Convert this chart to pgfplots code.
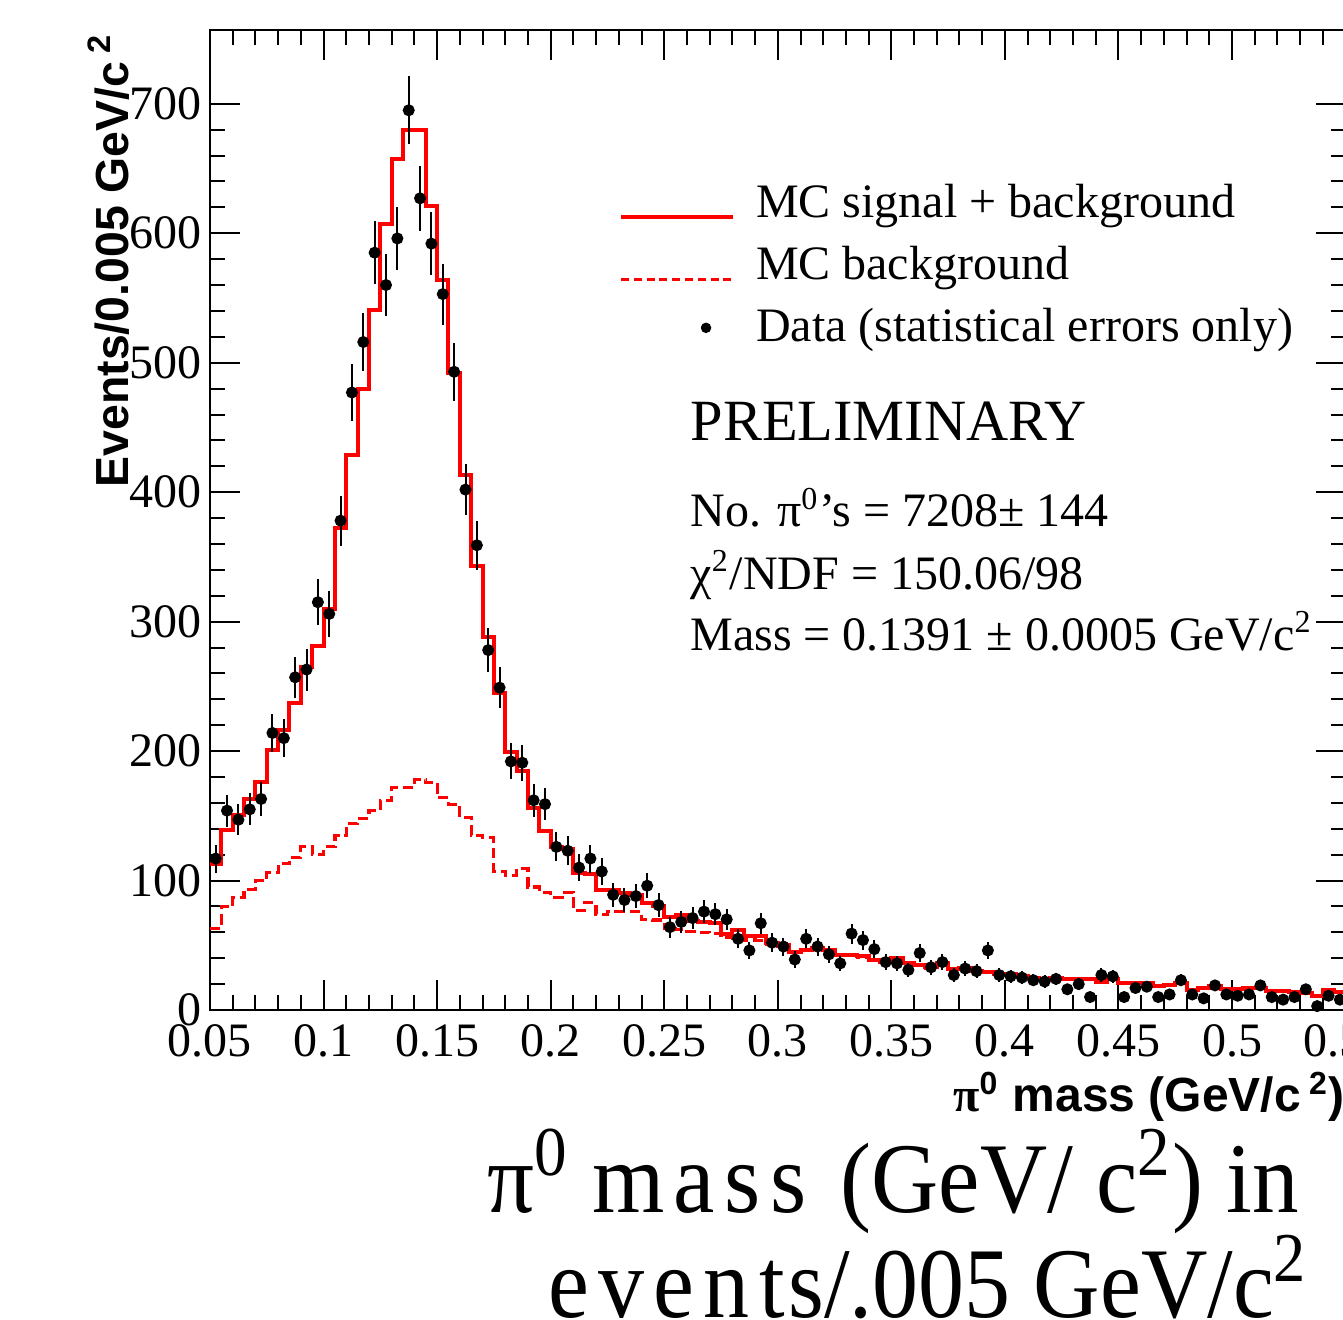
\documentclass[border=0pt]{standalone}
\usepackage{fontspec}
\setmainfont{Liberation Serif}
\newfontfamily\rootsans{Liberation Sans}
\newfontfamily\serifgr{Liberation Serif}
\usepackage{pgfplots}
\usepackage{pgfplotstable}
\pgfplotsset{compat=1.18}

\pgfplotstableread{
lo tot bg
0.050 113 63
0.055 139 80
0.060 151 87
0.065 163 93
0.070 176 100
0.075 201 106
0.080 216 113
0.085 237 118
0.090 265 126
0.095 281 120
0.100 310 126
0.105 372 135
0.110 429 144
0.115 480 148
0.120 541 154
0.125 607 162
0.130 657 172
0.135 680 172
0.140 680 178
0.145 621 176
0.150 564 164
0.155 492 159
0.160 413 149
0.165 343 135
0.170 288 133
0.175 245 107
0.180 199 104
0.185 185 109
0.190 156 95
0.195 138 91
0.200 126 87
0.205 124 91
0.210 106 77
0.215 105 83
0.220 93 74
0.225 93 76
0.230 90 76
0.235 89 76
0.240 83 70
0.245 80 69.5
0.250 72 63
0.255 73 62
0.260 69 60.5
0.265 68 60
0.270 67 59
0.275 59 56
0.280 62 55.5
0.285 57 54
0.290 57 53.5
0.295 52 51
0.300 50 49.5
0.305 45 44.5
0.310 46 45.8
0.315 48 47.6
0.320 46 45
0.325 42.5 42
0.330 42.5 42
0.335 41.7 41
0.340 38.6 38
0.345 37.3 37
0.350 39.9 39.3
0.355 36.6 36
0.360 34.8 34.3
0.365 33 32.5
0.370 36 35.4
0.375 31.7 31.2
0.380 32.2 31.7
0.385 30.4 30
0.390 29.6 29.1
0.395 27.8 27.3
0.400 27.8 27.3
0.405 26.3 25.8
0.410 25 24.5
0.415 23 22.6
0.420 24.5 24
0.425 23.7 23.3
0.430 23.7 23.3
0.435 24 23.6
0.440 21.9 21.5
0.445 23.7 23.3
0.450 20.6 20.2
0.455 20.6 20.2
0.460 20.6 20.2
0.465 18.8 18.4
0.470 19.3 18.9
0.475 20.6 20.2
0.480 15.5 15.1
0.485 16.7 16.3
0.490 18.5 18.1
0.495 16.2 15.8
0.500 16 15.6
0.505 16.7 16.3
0.510 16.7 16.3
0.515 14.9 14.5
0.520 14.9 14.5
0.525 14.2 13.8
0.530 12.9 12.5
0.535 10.8 10.4
0.540 15.5 15.1
0.545 14.2 13.8
0.550 14.2 13.8
}\histtab

\pgfplotstableread{
x y e
0.0525 117 10.8
0.0575 154 12.4
0.0625 147 12.1
0.0675 155 12.4
0.0725 163 12.8
0.0775 214 14.6
0.0825 210 14.5
0.0875 257 16.0
0.0925 263 16.2
0.0975 315 17.7
0.1025 306 17.5
0.1075 378 19.4
0.1125 477 21.8
0.1175 516 22.7
0.1225 585 24.2
0.1275 560 23.7
0.1325 596 24.4
0.1375 695 26.4
0.1425 627 25.0
0.1475 592 24.3
0.1525 553 23.5
0.1575 493 22.2
0.1625 402 20.0
0.1675 359 18.9
0.1725 278 16.7
0.1775 249 15.8
0.1825 192 13.9
0.1875 191 13.8
0.1925 162 12.7
0.1975 159 12.6
0.2025 126 11.2
0.2075 123 11.1
0.2125 110 10.5
0.2175 117 10.8
0.2225 107 10.3
0.2275 89 9.4
0.2325 85 9.2
0.2375 88 9.4
0.2425 96 9.8
0.2475 81 9.0
0.2525 64 8.0
0.2575 68 8.2
0.2625 71 8.4
0.2675 76 8.7
0.2725 74 8.6
0.2775 70 8.4
0.2825 55 7.4
0.2875 46 6.8
0.2925 67 8.2
0.2975 52 7.2
0.3025 49 7.0
0.3075 39 6.2
0.3125 55 7.4
0.3175 49 7.0
0.3225 43 6.6
0.3275 36 6.0
0.3325 59 7.7
0.3375 54 7.3
0.3425 47 6.9
0.3475 37 6.1
0.3525 36 6.0
0.3575 31 5.6
0.3625 44 6.6
0.3675 33 5.7
0.3725 37 6.1
0.3775 27 5.2
0.3825 32 5.7
0.3875 30 5.5
0.3925 46 6.8
0.3975 27 5.2
0.4025 26 5.1
0.4075 25 5.0
0.4125 23 4.8
0.4175 22 4.7
0.4225 24 4.9
0.4275 16 4.0
0.4325 20 4.5
0.4375 10 3.2
0.4425 27 5.2
0.4475 26 5.1
0.4525 10 3.2
0.4575 17 4.1
0.4625 18 4.2
0.4675 10 3.2
0.4725 12 3.5
0.4775 23 4.8
0.4825 12 3.5
0.4875 9 3.0
0.4925 19 4.4
0.4975 12 3.5
0.5025 11 3.3
0.5075 12 3.5
0.5125 19 4.4
0.5175 10 3.2
0.5225 8 2.8
0.5275 10 3.2
0.5325 16 4.0
0.5375 3 1.7
0.5425 11 3.3
0.5475 8 2.8
}\datatab

\begin{document}
\begin{tikzpicture}
\begin{axis}[
  scale only axis, width=283.9pt, height=245pt,
  xmin=0.05, xmax=0.55, ymin=0, ymax=757,
  axis line style={line width=0.5pt, black},
  tick align=inside,
  xtick={0.05,0.1,0.15,0.2,0.25,0.3,0.35,0.4,0.45,0.5,0.55},
  ytick={0,100,200,300,400,500,600,700},
  minor x tick num=4, minor y tick num=4,
  major tick length=7.5pt, minor tick length=3.75pt,
  tick style={black, line width=0.5pt},
  tick label style={font=\fontsize{12}{14}\selectfont},
  /pgf/number format/assume math mode=true,
  xticklabel style={/pgf/number format/fixed, /pgf/number format/precision=2},
  yticklabel style={xshift=1.5pt},
  xlabel={{\serifgr π}\textsuperscript{0} mass (GeV/c\,\textsuperscript{2})},
  xlabel style={font=\rootsans\bfseries\fontsize{12}{14}\selectfont, at={(axis description cs:1,0)}, anchor=base east, yshift=-25.5pt, inner sep=0pt},
  ylabel={Events/0.005 GeV/c\,\textsuperscript{2}},
  ylabel style={font=\rootsans\bfseries\fontsize{11.6}{14}\selectfont, at={(axis description cs:-0.0722,0.997)}, anchor=base east, inner sep=0pt},
  legend cell align=left,
  legend style={at={(axis description cs:0.3602,0.8459)}, anchor=north west, draw=none, fill=none,
    inner sep=0pt, outer sep=0pt, row sep=3.6pt, column sep=5.25pt,
    font=\fontsize{12}{14}\selectfont,
    nodes={inner sep=0pt, text height=9pt, text depth=3pt}},
]
\addplot[const plot mark left, red, line width=1pt,
  legend image code/.code={\draw[red, line width=1pt] (0pt,-3pt) -- (28pt,-3pt);}]
  table[x=lo, y=tot] {\histtab};
\addlegendentry{MC signal + background}
\addplot[const plot mark left, red, line width=0.8pt, dash pattern=on 2.6pt off 1.2pt,
  legend image code/.code={\draw[red, line width=0.6pt, dash pattern=on 2pt off 1.2pt] (0pt,-3pt) -- (28pt,-3pt);}]
  table[x=lo, y=bg] {\histtab};
\addlegendentry{MC background}
\addplot[only marks, mark=*, mark size=1.3pt, black,
  legend image code/.code={\path[draw=none, fill=none] (0pt,0pt) rectangle (28pt,0.5pt); \fill[black] (21.25pt,0.5pt) circle (1.1pt);},
  error bars/.cd, y dir=both, y explicit, error mark=none,
  error bar style={line width=0.5pt, black}]
  table[x=x, y=y, y error=e] {\datatab};
\addlegendentry{Data (statistical errors only)}
\node[anchor=base west, inner sep=0pt, font=\fontsize{14.6}{17}\selectfont] at (axis description cs:0.4225,0.5816) {PRELIMINARY};
\node[anchor=base west, inner sep=0pt, font=\fontsize{12}{14}\selectfont] at (axis description cs:0.4225,0.4929) {No. π\textsuperscript{0}’s = 7208± 144};
\node[anchor=base west, inner sep=0pt, font=\fontsize{12}{14}\selectfont] at (axis description cs:0.4225,0.4296) {χ\textsuperscript{2}/NDF = 150.06/98};
\node[anchor=base west, inner sep=0pt, font=\fontsize{12}{14}\selectfont] at (axis description cs:0.4225,0.3673) {Mass = 0.1391 ± 0.0005 GeV/c\textsuperscript{2}};
\end{axis}
\node[anchor=base west, inner sep=0pt, font=\fontsize{25}{30}\selectfont] at (69.25pt,-50.5pt)
  {\scalebox{0.93}[1]{π\textsuperscript{0} m\hspace{2.5pt}a\hspace{2.5pt}s\hspace{2.5pt}s\hspace{3pt} (GeV/ c\textsuperscript{2}) in}};
\node[anchor=base west, inner sep=0pt, font=\fontsize{25}{30}\selectfont] at (84.5pt,-77pt)
  {\scalebox{0.92}[1]{e\hspace{2.5pt}v\hspace{2.5pt}e\hspace{2.5pt}n\hspace{2.5pt}t\hspace{1pt}s/.005 GeV/c\textsuperscript{2}}};
\pgfresetboundingbox
\useasboundingbox (-52.5pt,-77.5pt) rectangle (283.25pt,252.5pt);
\end{tikzpicture}
\end{document}
